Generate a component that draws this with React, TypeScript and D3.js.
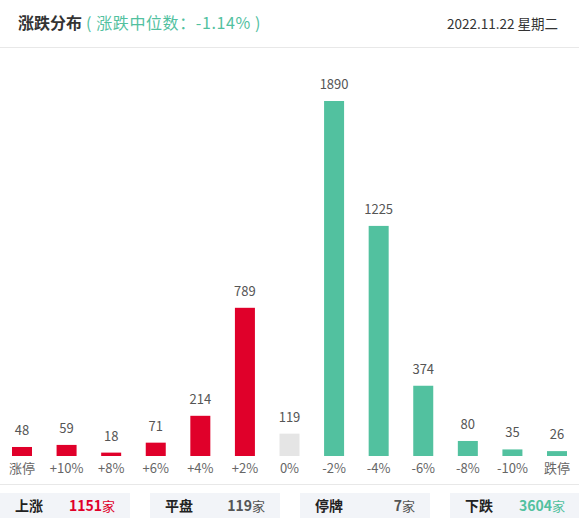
import React from "react";
import * as d3 from "d3";

const categories = ["涨停", "+10%", "+8%", "+6%", "+4%", "+2%", "0%", "-2%", "-4%", "-6%", "-8%", "-10%", "跌停"];
const counts = [48, 59, 18, 71, 214, 789, 119, 1890, 1225, 374, 80, 35, 26];
const summaryLabels = ["上涨", "平盘", "停牌", "下跌"];
const summaryValues = [1151, 119, 7, 3604];

const W = 579;
const H = 532;
const RED = "#e0002a";
const GREEN = "#52c19f";
const FLAT = "#e5e5e5";
const FONT = "'Noto Sans CJK SC', 'Noto Sans', sans-serif";
const BAR_W = 20;

function barColor(i: number) {
  if (i < 6) return RED;
  if (i === 6) return FLAT;
  return GREEN;
}

export default function App() {
  const x = d3.scalePoint<string>().domain(categories).range([22, 557]);
  const y = d3.scaleLinear().domain([0, 1890]).range([456, 101]);
  const summaryX = d3.scaleBand<string>().domain(summaryLabels).range([0, 580]).paddingInner(0.13333).paddingOuter(0);
  const summaryColors = [RED, "#555", "#555", GREEN];

  return (
    <svg width={W} height={H} style={{ position: "absolute", left: 0, top: 0, display: "block" }} fontFamily={FONT}>
      <rect width={W} height={H} fill="#fff" />
      <text x={18} y={29} fontSize={16} fontWeight="bold" fill="#333">
        涨跌分布
        <tspan fill={GREEN} fontWeight="normal" fontSize={16} dx={4} letterSpacing={0.6}>( 涨跌中位数：-1.14% )</tspan>
      </text>
      <text x={558} y={29} fontSize={13.5} fill="#333" textAnchor="end">2022.11.22 星期二</text>
      <line x1={0} x2={W} y1={47.5} y2={47.5} stroke="#e8e8e8" />

      {categories.map((c, i) => {
        const cx = x(c)!;
        const top = y(counts[i]);
        return (
          <g key={c}>
            <rect x={cx - BAR_W / 2} y={top} width={BAR_W} height={456 - top} fill={barColor(i)} />
            <text x={cx} y={top - 12} textAnchor="middle" fontSize={13} fill="#555">{counts[i]}</text>
            <text x={cx} y={473} textAnchor="middle" fontSize={13} fill="#666">{c}</text>
          </g>
        );
      })}
      <line x1={0} x2={W} y1={484.5} y2={484.5} stroke="#e8e8e8" />

      {summaryLabels.map((s, i) => {
        const sx = summaryX(s)!;
        const sw = summaryX.bandwidth();
        return (
          <g key={s}>
            <rect x={sx} y={493} width={sw} height={25} fill="#f2f4f8" />
            <text x={sx + 15} y={511} fontSize={14} fontWeight="bold" fill="#222">{s}</text>
            <text x={sx + 115} y={511} textAnchor="end" fontSize={14} fill={summaryColors[i]}>
              <tspan fontWeight="bold">{summaryValues[i]}</tspan>
              <tspan fontSize={13}>家</tspan>
            </text>
          </g>
        );
      })}
    </svg>
  );
}
